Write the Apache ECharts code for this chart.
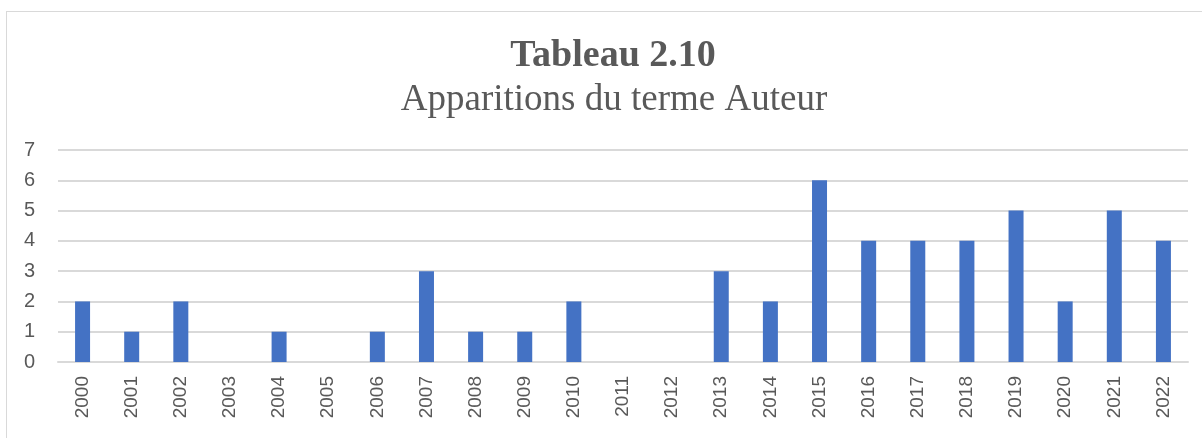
<!DOCTYPE html>
<html>
<head>
<meta charset="utf-8">
<script src="https://cdn.jsdelivr.net/npm/echarts@6/dist/echarts.min.js"></script>
<style>
  html, body { margin: 0; padding: 0; background: #fff; overflow: hidden; }
  #frame { position: absolute; left: 6px; top: 11px; width: 1300px; height: 500px; border: 1px solid #d9d9d9; box-sizing: border-box; }
  #chart { position: absolute; left: 0; top: 0; width: 1202px; height: 438px; }
</style>
</head>
<body>
<div id="frame"></div>
<div id="chart"></div>
<script>
var years = ['2000', '2001', '2002', '2003', '2004', '2005', '2006', '2007', '2008', '2009', '2010', '2011',
             '2012', '2013', '2014', '2015', '2016', '2017', '2018', '2019', '2020', '2021', '2022']
var counts = [2, 1, 2, 0, 1, 0, 1, 3, 1, 1, 2, 0, 0, 3, 2, 6, 4, 4, 4, 5, 2, 5, 4]

var chart = echarts.init(document.getElementById('chart'))

var option = {
    animation: false,
    title: [
        {
            text: 'Tableau 2.10',
            left: 608,
            textAlign: 'center',
            top: 32,
            textStyle: { fontFamily: 'Liberation Serif', fontSize: 38, fontWeight: 'bold', color: '#595959' }
        },
        {
            text: 'Apparitions du terme Auteur',
            left: 609,
            textAlign: 'center',
            top: 77,
            textStyle: { fontFamily: 'Liberation Serif', fontSize: 37, fontWeight: 'normal', color: '#595959' }
        }
    ],
    grid: {
        left: 58,
        right: 14,
        top: 150,
        height: 212
    },
    xAxis: {
        type: 'category',
        data: years,
        axisLine: { lineStyle: { color: '#d9d9d9', width: 2 } },
        axisTick: { show: false },
        axisLabel: {
            rotate: 90,
            margin: 14,
            fontFamily: 'Liberation Sans',
            fontSize: 19,
            color: '#595959'
        }
    },
    yAxis: {
        type: 'value',
        min: 0,
        max: 7,
        interval: 1,
        axisLine: { show: false },
        axisTick: { show: false },
        axisLabel: {
            margin: 23,
            fontFamily: 'Liberation Sans',
            fontSize: 20,
            color: '#595959'
        },
        splitLine: { lineStyle: { color: '#d9d9d9', width: 2 } }
    },
    series: [
        {
            type: 'bar',
            data: counts,
            barWidth: 15,
            itemStyle: { color: '#4472c4' }
        }
    ]
}
chart.setOption(option)
</script>
</body>
</html>
